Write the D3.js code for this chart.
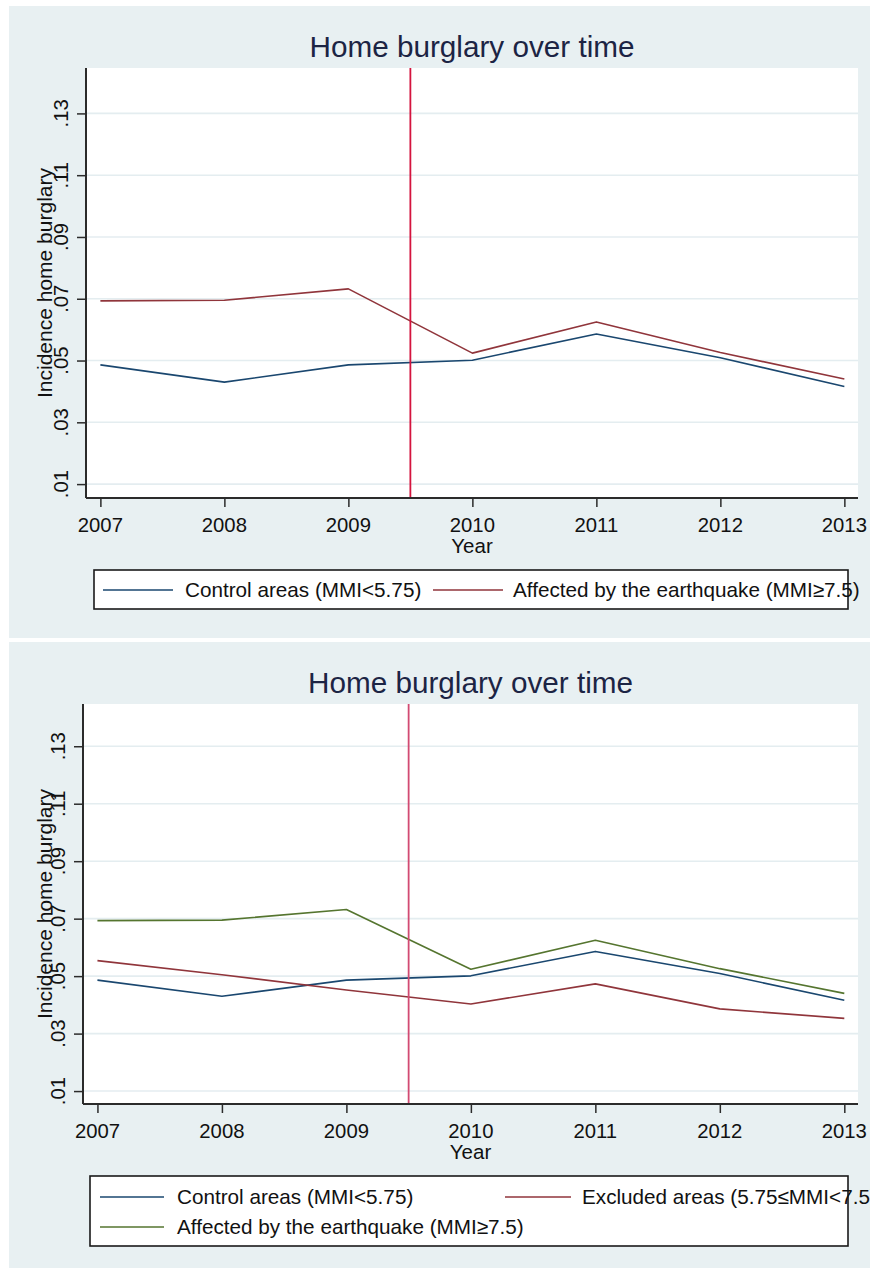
<!DOCTYPE html>
<html>
<head>
<meta charset="utf-8">
<script src="https://cdn.jsdelivr.net/npm/d3@7"></script>
<style>
  html, body { margin: 0; padding: 0; background: #ffffff; }
  svg { display: block; }
  text { font-family: "Liberation Sans", Arial, sans-serif; }
</style>
</head>
<body>
<svg id="chart" width="870" height="1271"></svg>
<script>
// Yearly incidence of home burglary by area type
const years = [2007, 2008, 2009, 2010, 2011, 2012, 2013];
const controlRate  = [0.0486, 0.0430, 0.0486, 0.0501, 0.0586, 0.0509, 0.0416];
const affectedRate = [0.0693, 0.0695, 0.0732, 0.0524, 0.0625, 0.0526, 0.0440];
const excludedRate = [0.0554, 0.0505, 0.0452, 0.0403, 0.0473, 0.0386, 0.0353];
const yTicks = [0.01, 0.03, 0.05, 0.07, 0.09, 0.11, 0.13];
const yTickLabels = [".01", ".03", ".05", ".07", ".09", ".11", ".13"];
const quakeYear = 2009.5;

const labelControl  = "Control areas (MMI<5.75)";
const labelAffected = "Affected by the earthquake (MMI\u22657.5)";
const labelExcluded = "Excluded areas (5.75\u2264MMI<7.5)";
const chartTitle = "Home burglary over time";
const xTitle = "Year";
const yTitle = "Incidence home burglary";

const NAVY = "#1a476f", MAROON = "#90353b", GREEN = "#55752f";
const BG = "#e8f0f2", GRID = "#e4edf0", AXIS = "#2b2b2b", INK = "#111111";

const svg = d3.select("#chart");

function drawPanel(p) {
  const g = svg.append("g");
  g.append("rect").attr("x", p.bg[0]).attr("y", p.bg[1])
    .attr("width", p.bg[2]).attr("height", p.bg[3]).attr("fill", BG);
  g.append("rect").attr("x", p.left).attr("y", p.top)
    .attr("width", p.right - p.left).attr("height", p.bottom - p.top).attr("fill", "#ffffff");

  const x = d3.scaleLinear().domain([2006.884, 2013.11]).range([p.left, p.right]);
  const y = d3.scaleLinear().domain([0.0055, 0.1447]).range([p.bottom, p.top]);

  // horizontal grid
  g.append("g").selectAll("line").data(yTicks).join("line")
    .attr("x1", p.left).attr("x2", p.right)
    .attr("y1", d => y(d)).attr("y2", d => y(d))
    .attr("stroke", GRID).attr("stroke-width", 1.6);

  // series
  const line = d3.line().x((d, i) => x(years[i])).y(d => y(d));
  p.series.forEach(s => {
    g.append("path").datum(s.values).attr("d", line)
      .attr("fill", "none").attr("stroke", s.color).attr("stroke-width", 1.6)
      .attr("stroke-linejoin", "round");
  });

  // earthquake marker
  g.append("line").attr("x1", x(quakeYear)).attr("x2", x(quakeYear))
    .attr("y1", p.top).attr("y2", p.bottom)
    .attr("stroke", p.markColor).attr("stroke-width", 1.8);

  // y axis
  const yAxis = d3.axisLeft(y).tickValues(yTicks).tickSize(9).tickFormat("");
  const ya = g.append("g").attr("transform", `translate(${p.left},0)`).call(yAxis);
  ya.select(".domain").attr("stroke", AXIS).attr("stroke-width", 2).attr("d", `M0,${p.top}V${p.bottom}`);
  ya.selectAll(".tick line").attr("stroke", AXIS).attr("stroke-width", 1.5);
  g.append("g").selectAll("text").data(yTicks).join("text")
    .attr("transform", (d) => `translate(${p.left - 18},${y(d)}) rotate(-90)`)
    .attr("text-anchor", "middle").attr("font-size", 20.3).attr("fill", INK)
    .text((d, i) => yTickLabels[i]);

  // x axis
  const xAxis = d3.axisBottom(x).tickValues(years).tickSize(9).tickFormat("");
  const xa = g.append("g").attr("transform", `translate(0,${p.bottom})`).call(xAxis);
  xa.select(".domain").attr("stroke", AXIS).attr("stroke-width", 2).attr("d", `M${p.left},0H${p.right}`);
  xa.selectAll(".tick line").attr("stroke", AXIS).attr("stroke-width", 1.5);
  g.append("g").selectAll("text").data(years).join("text")
    .attr("x", d => x(d)).attr("y", p.bottom + 34)
    .attr("text-anchor", "middle").attr("font-size", 20.3).attr("fill", INK)
    .text(d => String(d));

  const cx = (p.left + p.right) / 2;
  g.append("text").attr("x", cx).attr("y", p.bottom + 55)
    .attr("text-anchor", "middle").attr("font-size", 20.5).attr("fill", INK).text(xTitle);
  g.append("text")
    .attr("transform", `translate(52,${(p.top + p.bottom) / 2}) rotate(-90)`)
    .attr("text-anchor", "middle").attr("font-size", 21).attr("fill", INK).text(yTitle);
  g.append("text").attr("x", cx).attr("y", p.top - 11)
    .attr("text-anchor", "middle").attr("font-size", 29.7).attr("fill", "#1c2444").text(chartTitle);

  // legend
  const L = p.legend;
  g.append("rect").attr("x", L.box[0]).attr("y", L.box[1])
    .attr("width", L.box[2]).attr("height", L.box[3])
    .attr("fill", "#ffffff").attr("stroke", "#1a1a1a").attr("stroke-width", 1.6);
  L.items.forEach(it => {
    g.append("line").attr("x1", it.x0).attr("x2", it.x1).attr("y1", it.y).attr("y2", it.y)
      .attr("stroke", it.color).attr("stroke-width", 1.6);
    g.append("text").attr("x", it.tx).attr("y", it.y + 7)
      .attr("font-size", 20.7).attr("fill", INK).text(it.label);
  });
}

drawPanel({
  bg: [9, 6, 861, 632],
  left: 86, right: 858, top: 68, bottom: 498,
  markColor: "#d4143e",
  series: [
    { values: controlRate, color: NAVY },
    { values: affectedRate, color: MAROON }
  ],
  legend: {
    box: [94, 570, 754, 39],
    items: [
      { x0: 103, x1: 173, y: 590, tx: 185, color: NAVY, label: labelControl },
      { x0: 433, x1: 503, y: 590, tx: 513, color: MAROON, label: labelAffected }
    ]
  }
});

drawPanel({
  bg: [9, 642, 861, 626],
  left: 83, right: 858, top: 704, bottom: 1104,
  markColor: "#d24a72",
  series: [
    { values: controlRate, color: NAVY },
    { values: excludedRate, color: MAROON },
    { values: affectedRate, color: GREEN }
  ],
  legend: {
    box: [90, 1176, 758, 70],
    items: [
      { x0: 100, x1: 164, y: 1197, tx: 177, color: NAVY, label: labelControl },
      { x0: 505, x1: 571, y: 1197, tx: 582, color: MAROON, label: labelExcluded },
      { x0: 100, x1: 164, y: 1227, tx: 177, color: GREEN, label: labelAffected }
    ]
  }
});
</script>
</body>
</html>
